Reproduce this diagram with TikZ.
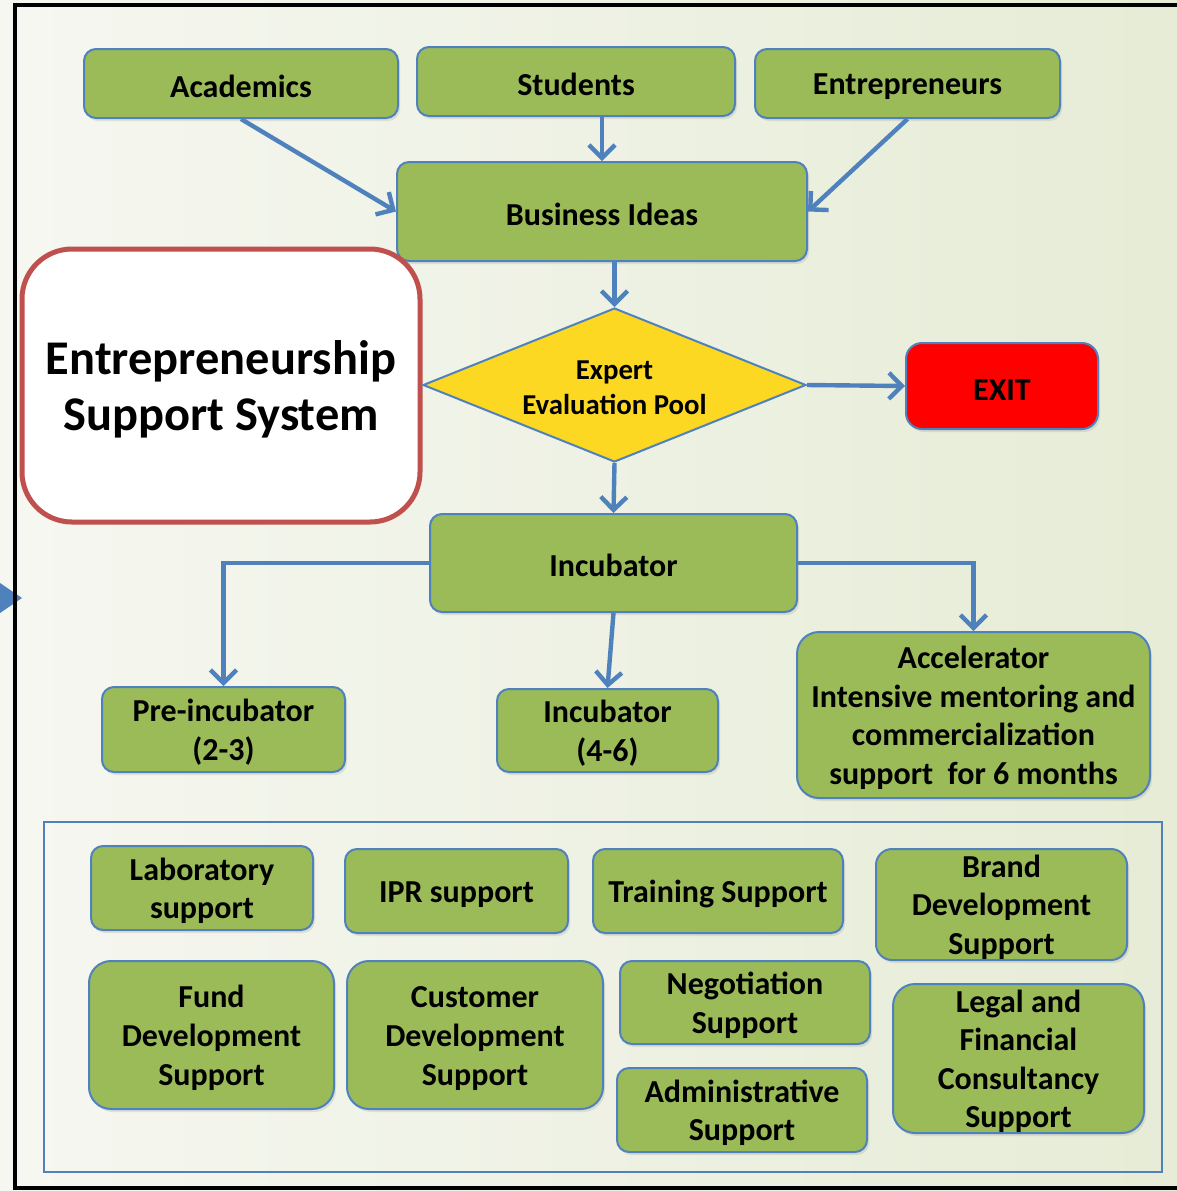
\documentclass[tikz,border=0pt]{standalone}
\usepackage{fontspec}
\setmainfont{Carlito}
\usepackage{tikz}
\usetikzlibrary{shapes,arrows,arrows.meta,shadows,positioning}

\definecolor{BoxGreen}{RGB}{155,187,89}
\definecolor{EdgeBlue}{RGB}{79,129,189}
\definecolor{PoolYellow}{RGB}{253,216,34}
\definecolor{TitleRed}{RGB}{192,80,77}
\definecolor{PaperL}{RGB}{246,247,241}
\definecolor{PaperR}{RGB}{230,236,214}

\begin{document}
\begin{tikzpicture}[x=0.5pt,y=-0.5pt]
			\tikzstyle{Box}		= [rectangle, rounded corners=6pt, draw=EdgeBlue, line width=1pt, fill=BoxGreen, align=flush center, inner sep=0pt, font=\bfseries\fontsize{16}{19.3}\selectfont, execute at begin node={\rule{0pt}{14pt}}, drop shadow={opacity=0.18, shadow xshift=1pt, shadow yshift=-1.5pt}]
			\tikzstyle{BigBox}	= [Box, rounded corners=11pt]
			\tikzstyle{Title}	= [rectangle, rounded corners=25pt, draw=TitleRed, line width=2.5pt, fill=white, align=flush center, inner sep=0pt, font=\bfseries\fontsize{24.2}{28}\selectfont, execute at begin node={\rule{0pt}{21pt}}]
			\tikzstyle{Pool}	= [diamond, aspect=2.49, draw=EdgeBlue, line width=1pt, fill=PoolYellow, inner sep=0pt, text width=96pt, minimum width=191.5pt, minimum height=77pt, align=flush center, font=\bfseries\fontsize{14.4}{17.5}\selectfont, execute at begin node={\rule{0pt}{12.5pt}}]
			\tikzstyle{Frame}	= [rectangle, draw=EdgeBlue, line width=1pt, inner sep=0pt]
			\tikzstyle{Border}	= [black, line width=2.4pt]
			\tikzstyle{Flow}	= [draw=EdgeBlue, line width=2.2pt, -{Straight Barb[length=6.5pt, width=13pt]}]

			\useasboundingbox (0,0) rectangle (1177,1191);
			\shade [left color=PaperL, right color=PaperR] (0,0) rectangle (1177,1191);
			\fill [EdgeBlue] (0,583) -- (22,598) -- (0,613) -- cycle;
			\draw [Border] (1177,5) -- (15,5) -- (15,1188) -- (1177,1188);

			\node (services) at (603,997) [Frame, minimum width=559pt, minimum height=175pt] {};

			\node (acad) at (241,83.5) [Box, text width=157pt, minimum height=34.5pt] {Academics};
			\node (stud) at (576,81.5) [Box, text width=159pt, minimum height=34.5pt] {Students};
			\node (entr) at (907.5,83.5) [Box, text width=152.5pt, minimum height=34.5pt] {Entrepreneurs};
			\node (ideas) at (602,211.5) [Box, text width=205pt, minimum height=49.5pt] {Business Ideas};
			\node (title) at (221,385.5) [Title, text width=199pt, minimum height=136.5pt] {Entrepreneurship\\Support System};
			\node (pool) at (614.5,385) [Pool] {Expert\\Evaluation Pool};
			\node (exit) at (1002,386) [Box, fill=red, rounded corners=8pt, text width=96pt, minimum height=43pt] {EXIT};
			\node (inc) at (613.5,563) [Box, text width=183.5pt, minimum height=49pt] {Incubator};
			\node (pre) at (223.5,729.5) [Box, text width=121.5pt, minimum height=42.5pt] {Pre-incubator\\(2-3)};
			\node (inc46) at (607.5,730.5) [Box, text width=110.5pt, minimum height=41.5pt] {Incubator\\(4-6)};
			\node (accel) at (973.5,715) [BigBox, text width=176.5pt, minimum height=83pt] {Accelerator\\Intensive mentoring and\\commercialization\\support~ for 6 months};

			\node (lab) at (202,888) [Box, text width=111pt, minimum height=42pt] {Laboratory\\support};
			\node (ipr) at (456.5,891) [Box, text width=111.5pt, minimum height=42pt] {IPR support};
			\node (train) at (718,891) [Box, text width=125pt, minimum height=42pt] {Training Support};
			\node (brand) at (1001.5,904.5) [Box, rounded corners=8pt, text width=125.5pt, minimum height=55.5pt] {Brand\\Development\\Support};
			\node (fund) at (211.5,1035) [BigBox, text width=122.5pt, minimum height=74pt] {Fund\\Development\\Support};
			\node (cust) at (475,1035) [BigBox, text width=128pt, minimum height=74pt] {Customer\\Development\\Support};
			\node (nego) at (745,1002.5) [Box, text width=125pt, minimum height=41.5pt] {Negotiation\\Support};
			\node (admin) at (742,1110) [Box, text width=125pt, minimum height=42pt] {Administrative\\Support};
			\node (legal) at (1018.5,1058.5) [BigBox, text width=125.5pt, minimum height=74.5pt] {Legal and\\Financial\\Consultancy\\Support};

			\draw [Flow] (acad.south) to (ideas.west);
			\draw [Flow] (ideas.north |- stud.south) to (ideas.north);
			\draw [Flow] (entr.south) to (ideas.east);
			\draw [Flow] (pool.north |- ideas.south) to (pool.north);
			\draw [Flow] (pool.east) to (exit.west);
			\draw [Flow] (pool.south) to (inc.north);
			\draw [Flow] (inc.west) -| (pre.north);
			\draw [Flow] (inc.east) -| (accel.north);
			\draw [Flow] (inc.south) to (inc46.north);
		\end{tikzpicture}
\end{document}
